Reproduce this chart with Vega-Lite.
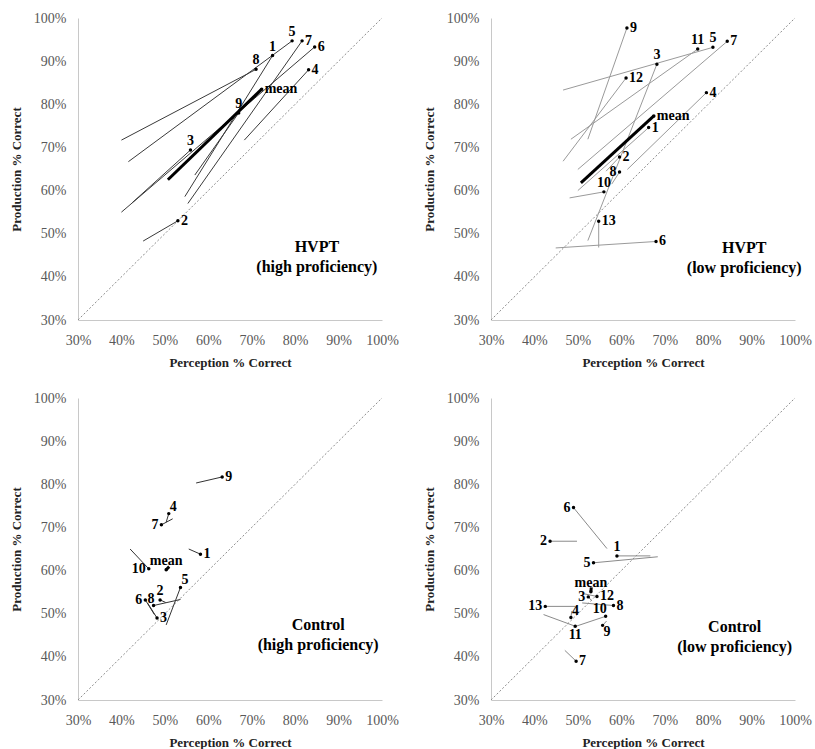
{
  "$schema": "https://vega.github.io/schema/vega-lite/v6.json",
  "padding": {"left": 10, "top": 11, "right": 3, "bottom": 0},
  "datasets": {
    "d": [
    {"panel": "A", "kind": "diag", "x": 30, "y": 30, "x2": 100, "y2": 100},
    {"panel": "B", "kind": "diag", "x": 30, "y": 30, "x2": 100, "y2": 100},
    {"panel": "C", "kind": "diag", "x": 30, "y": 30, "x2": 100, "y2": 100},
    {"panel": "D", "kind": "diag", "x": 30, "y": 30, "x2": 100, "y2": 100},
    {"panel": "A", "kind": "note", "x": 85, "y": 46.9, "note": "HVPT\n(high proficiency)"},
    {"panel": "B", "kind": "note", "x": 88.3, "y": 46.7, "note": "HVPT\n(low proficiency)"},
    {"panel": "C", "kind": "note", "x": 85.3, "y": 47.4, "note": "Control\n(high proficiency)"},
    {"panel": "D", "kind": "note", "x": 86.1, "y": 47.0, "note": "Control\n(low proficiency)"},
    {"panel": "A", "kind": "arrow", "id": "1", "x": 54.6, "y": 58.6, "x2": 74.8, "y2": 91.3, "pos": "t"},
    {"panel": "A", "kind": "arrow", "id": "2", "x": 45.0, "y": 48.3, "x2": 53.0, "y2": 53.0, "pos": "r"},
    {"panel": "A", "kind": "arrow", "id": "3", "x": 42.5, "y": 57.2, "x2": 55.9, "y2": 69.4, "pos": "t"},
    {"panel": "A", "kind": "arrow", "id": "4", "x": 68.3, "y": 71.7, "x2": 83.1, "y2": 88.0, "pos": "r"},
    {"panel": "A", "kind": "arrow", "id": "5", "x": 41.6, "y": 66.7, "x2": 79.3, "y2": 94.7, "pos": "t"},
    {"panel": "A", "kind": "arrow", "id": "6", "x": 40.0, "y": 55.0, "x2": 84.5, "y2": 93.3, "pos": "r"},
    {"panel": "A", "kind": "arrow", "id": "7", "x": 55.3, "y": 57.0, "x2": 81.6, "y2": 94.7, "pos": "r"},
    {"panel": "A", "kind": "arrow", "id": "8", "x": 40.0, "y": 71.7, "x2": 71.0, "y2": 88.1, "pos": "t"},
    {"panel": "A", "kind": "arrow", "id": "9", "x": 56.9, "y": 63.6, "x2": 67.0, "y2": 78.0, "pos": "t"},
    {"panel": "A", "kind": "arrow", "id": "mean", "x": 50.7, "y": 62.5, "x2": 72.3, "y2": 83.5, "pos": "r"},
    {"panel": "B", "kind": "arrow", "id": "1", "x": 50.0, "y": 60.0, "x2": 66.3, "y2": 74.6, "pos": "r"},
    {"panel": "B", "kind": "arrow", "id": "2", "x": 56.5, "y": 64.5, "x2": 59.6, "y2": 67.8, "pos": "r"},
    {"panel": "B", "kind": "arrow", "id": "3", "x": 52.3, "y": 48.4, "x2": 68.2, "y2": 89.3, "pos": "t"},
    {"panel": "B", "kind": "arrow", "id": "4", "x": 61.4, "y": 64.9, "x2": 79.6, "y2": 82.7, "pos": "r"},
    {"panel": "B", "kind": "arrow", "id": "5", "x": 46.6, "y": 83.3, "x2": 81.1, "y2": 93.2, "pos": "t"},
    {"panel": "B", "kind": "arrow", "id": "6", "x": 44.9, "y": 46.7, "x2": 68.0, "y2": 48.2, "pos": "r"},
    {"panel": "B", "kind": "arrow", "id": "7", "x": 50.0, "y": 64.9, "x2": 84.4, "y2": 94.6, "pos": "r"},
    {"panel": "B", "kind": "arrow", "id": "8", "x": 57.8, "y": 61.5, "x2": 59.6, "y2": 64.3, "pos": "l"},
    {"panel": "B", "kind": "arrow", "id": "9", "x": 52.3, "y": 71.9, "x2": 61.3, "y2": 97.7, "pos": "r"},
    {"panel": "B", "kind": "arrow", "id": "10", "x": 48.1, "y": 58.3, "x2": 56.0, "y2": 59.7, "pos": "t"},
    {"panel": "B", "kind": "arrow", "id": "11", "x": 48.4, "y": 71.9, "x2": 77.6, "y2": 92.8, "pos": "t"},
    {"panel": "B", "kind": "arrow", "id": "12", "x": 46.6, "y": 66.8, "x2": 61.1, "y2": 86.1, "pos": "r"},
    {"panel": "B", "kind": "arrow", "id": "13", "x": 54.8, "y": 46.8, "x2": 54.8, "y2": 52.9, "pos": "r"},
    {"panel": "B", "kind": "arrow", "id": "mean", "x": 50.7, "y": 61.8, "x2": 67.5, "y2": 77.3, "pos": "r"},
    {"panel": "C", "kind": "arrow", "id": "1", "x": 55.5, "y": 65.0, "x2": 58.2, "y2": 63.8, "pos": "r"},
    {"panel": "C", "kind": "arrow", "id": "2", "x": 50.2, "y": 52.6, "x2": 48.9, "y2": 53.2, "pos": "t"},
    {"panel": "C", "kind": "arrow", "id": "3", "x": 46.0, "y": 52.5, "x2": 48.2, "y2": 49.0, "pos": "r"},
    {"panel": "C", "kind": "arrow", "id": "4", "x": 50.3, "y": 71.2, "x2": 50.9, "y2": 73.2, "pos": "tr"},
    {"panel": "C", "kind": "arrow", "id": "5", "x": 50.3, "y": 47.4, "x2": 53.6, "y2": 56.1, "pos": "tr"},
    {"panel": "C", "kind": "arrow", "id": "6", "x": 47.6, "y": 49.8, "x2": 45.5, "y2": 53.2, "pos": "l"},
    {"panel": "C", "kind": "arrow", "id": "7", "x": 51.8, "y": 72.0, "x2": 49.2, "y2": 70.6, "pos": "l"},
    {"panel": "C", "kind": "arrow", "id": "8", "x": 53.6, "y": 53.3, "x2": 47.4, "y2": 51.9, "pos": "tl"},
    {"panel": "C", "kind": "arrow", "id": "9", "x": 57.2, "y": 80.3, "x2": 63.2, "y2": 81.7, "pos": "r"},
    {"panel": "C", "kind": "arrow", "id": "10", "x": 42.0, "y": 65.0, "x2": 46.3, "y2": 60.4, "pos": "l"},
    {"panel": "C", "kind": "arrow", "id": "mean", "x": 51.0, "y": 60.9, "x2": 50.3, "y2": 60.2, "pos": "t"},
    {"panel": "D", "kind": "arrow", "id": "1", "x": 66.7, "y": 63.4, "x2": 59.0, "y2": 63.4, "pos": "t"},
    {"panel": "D", "kind": "arrow", "id": "2", "x": 49.8, "y": 66.8, "x2": 43.6, "y2": 66.8, "pos": "l"},
    {"panel": "D", "kind": "arrow", "id": "3", "x": 53.2, "y": 53.0, "x2": 52.4, "y2": 53.9, "pos": "l"},
    {"panel": "D", "kind": "arrow", "id": "4", "x": 48.6, "y": 50.6, "x2": 48.4, "y2": 49.1, "pos": "tr"},
    {"panel": "D", "kind": "arrow", "id": "5", "x": 68.4, "y": 63.2, "x2": 53.6, "y2": 61.8, "pos": "l"},
    {"panel": "D", "kind": "arrow", "id": "6", "x": 56.7, "y": 65.1, "x2": 49.0, "y2": 74.6, "pos": "l"},
    {"panel": "D", "kind": "arrow", "id": "7", "x": 47.0, "y": 41.5, "x2": 49.6, "y2": 39.0, "pos": "r"},
    {"panel": "D", "kind": "arrow", "id": "8", "x": 51.0, "y": 52.5, "x2": 58.2, "y2": 51.9, "pos": "r"},
    {"panel": "D", "kind": "arrow", "id": "9", "x": 56.6, "y": 48.3, "x2": 55.7, "y2": 47.3, "pos": "br"},
    {"panel": "D", "kind": "arrow", "id": "10", "x": 49.0, "y": 46.9, "x2": 56.4, "y2": 49.4, "pos": "tl"},
    {"panel": "D", "kind": "arrow", "id": "11", "x": 42.1, "y": 49.8, "x2": 49.4, "y2": 47.1, "pos": "b"},
    {"panel": "D", "kind": "arrow", "id": "12", "x": 51.5, "y": 54.6, "x2": 54.4, "y2": 54.0, "pos": "r"},
    {"panel": "D", "kind": "arrow", "id": "13", "x": 49.4, "y": 51.7, "x2": 42.5, "y2": 51.7, "pos": "l"},
    {"panel": "D", "kind": "arrow", "id": "mean", "x": 53.1, "y": 56.1, "x2": 53.0, "y2": 55.1, "pos": "t"}
    ]
  },
  "data": {"name": "d"},
  "columns": 2,
  "spacing": {"row": 22, "column": 24},
  "concat": [
    {"width": 304, "height": 302, "transform": [{"filter": "datum.panel === 'A'"}],
     "encoding": {
      "x": {"field": "x", "type": "quantitative", "scale": {"domain": [30, 100], "nice": false, "zero": false}, "axis": {"title": "Perception % Correct", "values": [30, 40, 50, 60, 70, 80, 90, 100], "labelExpr": "datum.value + '%'", "labelPadding": 13, "titlePadding": 9}},
      "y": {"field": "y", "type": "quantitative", "scale": {"domain": [30, 100], "nice": false, "zero": false}, "axis": {"title": "Production % Correct", "values": [30, 40, 50, 60, 70, 80, 90, 100], "labelExpr": "datum.value + '%'", "labelPadding": 12, "titlePadding": 10}}},
     "layer": [
      {"transform": [{"filter": "datum.kind === 'diag'"}], "mark": {"type": "rule", "style": "diag"}, "encoding": {"x2": {"field": "x2"}, "y2": {"field": "y2"}}},
      {"transform": [{"filter": "datum.kind === 'arrow' && datum.id !== 'mean'"}], "mark": {"type": "rule", "strokeWidth": 1, "color": "#3a3a3a"}, "encoding": {"x2": {"field": "x2"}, "y2": {"field": "y2"}}},
      {"transform": [{"filter": "datum.kind === 'arrow' && datum.id === 'mean'"}], "mark": {"type": "rule", "strokeWidth": 3, "color": "#000000"}, "encoding": {"x2": {"field": "x2"}, "y2": {"field": "y2"}}},
      {"transform": [{"filter": "datum.kind === 'arrow'"}], "mark": {"type": "point", "style": "head"}, "encoding": {"x": {"field": "x2", "type": "quantitative"}, "y": {"field": "y2", "type": "quantitative"}}},
      {"transform": [{"filter": "datum.kind === 'arrow' && datum.pos === 'r'"}], "mark": {"type": "text", "style": "lab", "align": "left", "baseline": "middle", "dx": 3}, "encoding": {"x": {"field": "x2", "type": "quantitative"}, "y": {"field": "y2", "type": "quantitative"}, "text": {"field": "id"}}},
      {"transform": [{"filter": "datum.kind === 'arrow' && datum.pos === 't'"}], "mark": {"type": "text", "style": "lab", "align": "center", "baseline": "bottom", "dy": -2}, "encoding": {"x": {"field": "x2", "type": "quantitative"}, "y": {"field": "y2", "type": "quantitative"}, "text": {"field": "id"}}},
      {"transform": [{"filter": "datum.kind === 'note'"}], "mark": {"type": "text", "style": "note"}, "encoding": {"text": {"field": "note"}}}
     ]},
    {"width": 304, "height": 302, "transform": [{"filter": "datum.panel === 'B'"}],
     "encoding": {
      "x": {"field": "x", "type": "quantitative", "scale": {"domain": [30, 100], "nice": false, "zero": false}, "axis": {"title": "Perception % Correct", "values": [30, 40, 50, 60, 70, 80, 90, 100], "labelExpr": "datum.value + '%'", "labelPadding": 13, "titlePadding": 9}},
      "y": {"field": "y", "type": "quantitative", "scale": {"domain": [30, 100], "nice": false, "zero": false}, "axis": {"title": "Production % Correct", "values": [30, 40, 50, 60, 70, 80, 90, 100], "labelExpr": "datum.value + '%'", "labelPadding": 12, "titlePadding": 10}}},
     "layer": [
      {"transform": [{"filter": "datum.kind === 'diag'"}], "mark": {"type": "rule", "style": "diag"}, "encoding": {"x2": {"field": "x2"}, "y2": {"field": "y2"}}},
      {"transform": [{"filter": "datum.kind === 'arrow' && datum.id !== 'mean'"}], "mark": {"type": "rule", "strokeWidth": 1, "color": "#9a9a9a"}, "encoding": {"x2": {"field": "x2"}, "y2": {"field": "y2"}}},
      {"transform": [{"filter": "datum.kind === 'arrow' && datum.id === 'mean'"}], "mark": {"type": "rule", "strokeWidth": 3, "color": "#000000"}, "encoding": {"x2": {"field": "x2"}, "y2": {"field": "y2"}}},
      {"transform": [{"filter": "datum.kind === 'arrow'"}], "mark": {"type": "point", "style": "head"}, "encoding": {"x": {"field": "x2", "type": "quantitative"}, "y": {"field": "y2", "type": "quantitative"}}},
      {"transform": [{"filter": "datum.kind === 'arrow' && datum.pos === 'r'"}], "mark": {"type": "text", "style": "lab", "align": "left", "baseline": "middle", "dx": 3}, "encoding": {"x": {"field": "x2", "type": "quantitative"}, "y": {"field": "y2", "type": "quantitative"}, "text": {"field": "id"}}},
      {"transform": [{"filter": "datum.kind === 'arrow' && datum.pos === 'l'"}], "mark": {"type": "text", "style": "lab", "align": "right", "baseline": "middle", "dx": -3}, "encoding": {"x": {"field": "x2", "type": "quantitative"}, "y": {"field": "y2", "type": "quantitative"}, "text": {"field": "id"}}},
      {"transform": [{"filter": "datum.kind === 'arrow' && datum.pos === 't'"}], "mark": {"type": "text", "style": "lab", "align": "center", "baseline": "bottom", "dy": -2}, "encoding": {"x": {"field": "x2", "type": "quantitative"}, "y": {"field": "y2", "type": "quantitative"}, "text": {"field": "id"}}},
      {"transform": [{"filter": "datum.kind === 'note'"}], "mark": {"type": "text", "style": "note"}, "encoding": {"text": {"field": "note"}}}
     ]},
    {"width": 304, "height": 302, "transform": [{"filter": "datum.panel === 'C'"}],
     "encoding": {
      "x": {"field": "x", "type": "quantitative", "scale": {"domain": [30, 100], "nice": false, "zero": false}, "axis": {"title": "Perception % Correct", "values": [30, 40, 50, 60, 70, 80, 90, 100], "labelExpr": "datum.value + '%'", "labelPadding": 13, "titlePadding": 9}},
      "y": {"field": "y", "type": "quantitative", "scale": {"domain": [30, 100], "nice": false, "zero": false}, "axis": {"title": "Production % Correct", "values": [30, 40, 50, 60, 70, 80, 90, 100], "labelExpr": "datum.value + '%'", "labelPadding": 12, "titlePadding": 10}}},
     "layer": [
      {"transform": [{"filter": "datum.kind === 'diag'"}], "mark": {"type": "rule", "style": "diag"}, "encoding": {"x2": {"field": "x2"}, "y2": {"field": "y2"}}},
      {"transform": [{"filter": "datum.kind === 'arrow' && datum.id !== 'mean'"}], "mark": {"type": "rule", "strokeWidth": 1, "color": "#333333"}, "encoding": {"x2": {"field": "x2"}, "y2": {"field": "y2"}}},
      {"transform": [{"filter": "datum.kind === 'arrow' && datum.id === 'mean'"}], "mark": {"type": "rule", "strokeWidth": 3, "color": "#000000"}, "encoding": {"x2": {"field": "x2"}, "y2": {"field": "y2"}}},
      {"transform": [{"filter": "datum.kind === 'arrow'"}], "mark": {"type": "point", "style": "head"}, "encoding": {"x": {"field": "x2", "type": "quantitative"}, "y": {"field": "y2", "type": "quantitative"}}},
      {"transform": [{"filter": "datum.kind === 'arrow' && datum.pos === 'r'"}], "mark": {"type": "text", "style": "lab", "align": "left", "baseline": "middle", "dx": 3}, "encoding": {"x": {"field": "x2", "type": "quantitative"}, "y": {"field": "y2", "type": "quantitative"}, "text": {"field": "id"}}},
      {"transform": [{"filter": "datum.kind === 'arrow' && datum.pos === 'l'"}], "mark": {"type": "text", "style": "lab", "align": "right", "baseline": "middle", "dx": -3}, "encoding": {"x": {"field": "x2", "type": "quantitative"}, "y": {"field": "y2", "type": "quantitative"}, "text": {"field": "id"}}},
      {"transform": [{"filter": "datum.kind === 'arrow' && datum.pos === 't'"}], "mark": {"type": "text", "style": "lab", "align": "center", "baseline": "bottom", "dy": -2}, "encoding": {"x": {"field": "x2", "type": "quantitative"}, "y": {"field": "y2", "type": "quantitative"}, "text": {"field": "id"}}},
      {"transform": [{"filter": "datum.kind === 'arrow' && datum.pos === 'tr'"}], "mark": {"type": "text", "style": "lab", "align": "left", "baseline": "bottom", "dx": 1}, "encoding": {"x": {"field": "x2", "type": "quantitative"}, "y": {"field": "y2", "type": "quantitative"}, "text": {"field": "id"}}},
      {"transform": [{"filter": "datum.kind === 'arrow' && datum.pos === 'tl'"}], "mark": {"type": "text", "style": "lab", "align": "right", "baseline": "bottom", "dx": 1}, "encoding": {"x": {"field": "x2", "type": "quantitative"}, "y": {"field": "y2", "type": "quantitative"}, "text": {"field": "id"}}},
      {"transform": [{"filter": "datum.kind === 'note'"}], "mark": {"type": "text", "style": "note"}, "encoding": {"text": {"field": "note"}}}
     ]},
    {"width": 304, "height": 302, "transform": [{"filter": "datum.panel === 'D'"}],
     "encoding": {
      "x": {"field": "x", "type": "quantitative", "scale": {"domain": [30, 100], "nice": false, "zero": false}, "axis": {"title": "Perception % Correct", "values": [30, 40, 50, 60, 70, 80, 90, 100], "labelExpr": "datum.value + '%'", "labelPadding": 13, "titlePadding": 9}},
      "y": {"field": "y", "type": "quantitative", "scale": {"domain": [30, 100], "nice": false, "zero": false}, "axis": {"title": "Production % Correct", "values": [30, 40, 50, 60, 70, 80, 90, 100], "labelExpr": "datum.value + '%'", "labelPadding": 12, "titlePadding": 10}}},
     "layer": [
      {"transform": [{"filter": "datum.kind === 'diag'"}], "mark": {"type": "rule", "style": "diag"}, "encoding": {"x2": {"field": "x2"}, "y2": {"field": "y2"}}},
      {"transform": [{"filter": "datum.kind === 'arrow' && datum.id !== 'mean'"}], "mark": {"type": "rule", "strokeWidth": 1, "color": "#8a8a8a"}, "encoding": {"x2": {"field": "x2"}, "y2": {"field": "y2"}}},
      {"transform": [{"filter": "datum.kind === 'arrow' && datum.id === 'mean'"}], "mark": {"type": "rule", "strokeWidth": 3, "color": "#000000"}, "encoding": {"x2": {"field": "x2"}, "y2": {"field": "y2"}}},
      {"transform": [{"filter": "datum.kind === 'arrow'"}], "mark": {"type": "point", "style": "head"}, "encoding": {"x": {"field": "x2", "type": "quantitative"}, "y": {"field": "y2", "type": "quantitative"}}},
      {"transform": [{"filter": "datum.kind === 'arrow' && datum.pos === 'r'"}], "mark": {"type": "text", "style": "lab", "align": "left", "baseline": "middle", "dx": 3}, "encoding": {"x": {"field": "x2", "type": "quantitative"}, "y": {"field": "y2", "type": "quantitative"}, "text": {"field": "id"}}},
      {"transform": [{"filter": "datum.kind === 'arrow' && datum.pos === 'l'"}], "mark": {"type": "text", "style": "lab", "align": "right", "baseline": "middle", "dx": -3}, "encoding": {"x": {"field": "x2", "type": "quantitative"}, "y": {"field": "y2", "type": "quantitative"}, "text": {"field": "id"}}},
      {"transform": [{"filter": "datum.kind === 'arrow' && datum.pos === 't'"}], "mark": {"type": "text", "style": "lab", "align": "center", "baseline": "bottom", "dy": -2}, "encoding": {"x": {"field": "x2", "type": "quantitative"}, "y": {"field": "y2", "type": "quantitative"}, "text": {"field": "id"}}},
      {"transform": [{"filter": "datum.kind === 'arrow' && datum.pos === 'b'"}], "mark": {"type": "text", "style": "lab", "align": "center", "baseline": "top", "dy": 2}, "encoding": {"x": {"field": "x2", "type": "quantitative"}, "y": {"field": "y2", "type": "quantitative"}, "text": {"field": "id"}}},
      {"transform": [{"filter": "datum.kind === 'arrow' && datum.pos === 'tr'"}], "mark": {"type": "text", "style": "lab", "align": "left", "baseline": "bottom", "dx": 1}, "encoding": {"x": {"field": "x2", "type": "quantitative"}, "y": {"field": "y2", "type": "quantitative"}, "text": {"field": "id"}}},
      {"transform": [{"filter": "datum.kind === 'arrow' && datum.pos === 'tl'"}], "mark": {"type": "text", "style": "lab", "align": "right", "baseline": "bottom", "dx": 1}, "encoding": {"x": {"field": "x2", "type": "quantitative"}, "y": {"field": "y2", "type": "quantitative"}, "text": {"field": "id"}}},
      {"transform": [{"filter": "datum.kind === 'arrow' && datum.pos === 'br'"}], "mark": {"type": "text", "style": "lab", "align": "left", "baseline": "top", "dx": 1}, "encoding": {"x": {"field": "x2", "type": "quantitative"}, "y": {"field": "y2", "type": "quantitative"}, "text": {"field": "id"}}},
      {"transform": [{"filter": "datum.kind === 'note'"}], "mark": {"type": "text", "style": "note"}, "encoding": {"text": {"field": "note"}}}
     ]}
  ],
  "config": {
    "view": {"stroke": null},
    "style": {
      "diag": {"color": "#8c8c8c", "strokeDash": [2, 2], "strokeWidth": 1},
      "head": {"filled": true, "color": "#000000", "opacity": 1, "size": 12, "shape": "circle"},
      "lab": {"font": "Liberation Serif", "fontWeight": "bold", "fontSize": 14, "color": "#000000"},
      "note": {"align": "center", "baseline": "middle", "lineBreak": "\n", "lineHeight": 20, "font": "Liberation Serif", "fontWeight": "bold", "fontSize": 16, "color": "#000000"},
      "guide-label": {"font": "Liberation Serif", "fontSize": 14, "fill": "#595959"},
      "guide-title": {"font": "Liberation Serif", "fontSize": 13, "fontWeight": "bold", "fill": "#222222"}
    },
    "axis": {"domainColor": "#c8c8c8", "ticks": false, "grid": false, "labelOverlap": false, "labelFlush": false, "labelFont": "Liberation Serif", "labelFontSize": 14, "labelColor": "#595959", "titleFont": "Liberation Serif", "titleFontSize": 13, "titleFontWeight": "bold", "titleColor": "#222222"}
  }
}
